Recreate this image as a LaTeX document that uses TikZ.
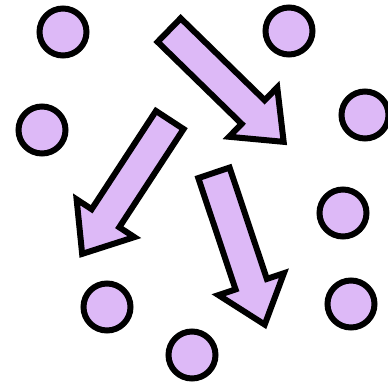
\documentclass[tikz,border=0pt]{standalone}
\usepackage{xcolor}
\usepackage{tikz}
\usetikzlibrary{shapes.arrows}
\definecolor{lilac}{RGB}{221,185,247}

\begin{document}
\begin{tikzpicture}[
    x=1pt, y=1pt,
    dot/.style={circle, draw=black, fill=lilac, line width=6pt, minimum size=47pt, inner sep=0pt},
    fatarrow/.style={single arrow, draw=black, fill=lilac, line width=6pt, line join=miter,
        inner xsep=0pt, inner ysep=13.5pt, minimum height=160pt, single arrow head extend=18pt,
        single arrow tip angle=78, anchor=tail},
]
\useasboundingbox (0,0) rectangle (388,386);

% scattered dots
\node[dot] (d1) at (63,354) {};
\node[dot] (d2) at (289,355) {};
\node[dot] (d3) at (42,256) {};
\node[dot] (d4) at (365,271) {};
\node[dot] (d5) at (343,173) {};
\node[dot] (d6) at (107,79) {};
\node[dot] (d7) at (351,82) {};
\node[dot] (d8) at (192,31) {};

% block arrows
\node[fatarrow, rotate=-44.3] (a1) at (167,358) {};
\node[fatarrow, rotate=-123.2] (a2) at (171.4,268.5) {};
\node[fatarrow, rotate=-71.5] (a3) at (213,216) {};

\end{tikzpicture}
\end{document}
